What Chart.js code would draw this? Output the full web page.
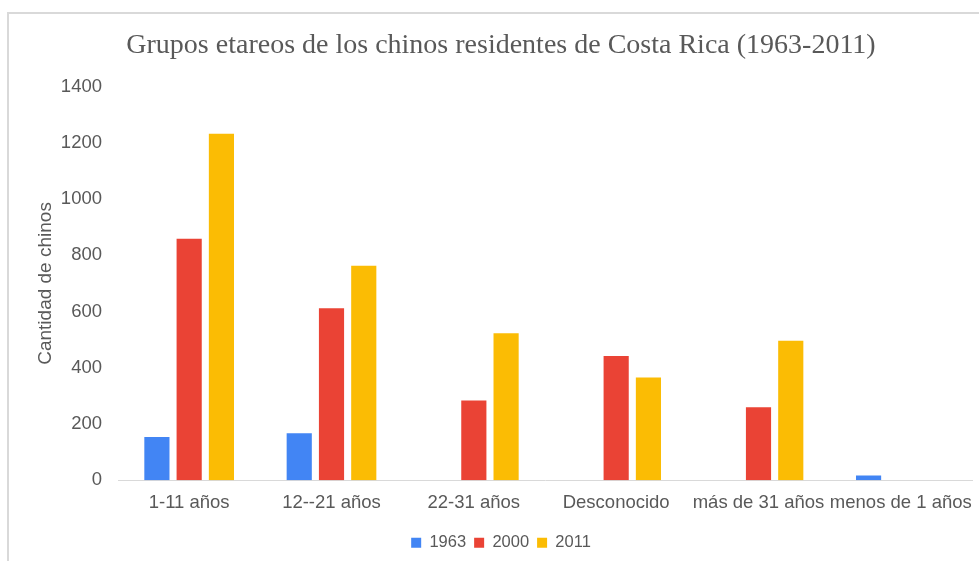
<!DOCTYPE html>
<html>
<head>
<meta charset="utf-8">
<script src="https://cdn.jsdelivr.net/npm/chart.js@4"></script>
<style>
  html, body { margin: 0; padding: 0; background: #fff; }
  #frame { position: absolute; left: 7px; top: 12px; width: 979px; height: 560px;
           border-top: 2px solid #d9d9d9; border-left: 2px solid #d9d9d9; }
  #chartGroupes { position: absolute; left: 0; top: 0; }
</style>
</head>
<body>
<div id="frame"></div>
<canvas id="chartGroupes" width="979" height="561"></canvas>
<script>
// Donnees
var categories = ["1-11 años", "12--21 años", "22-31 años", "Desconocido", "más de 31 años", "menos de 1 años"];
var valores1963 = [154, 167, null, null, null, 17];
var valores2000 = [859, 612, 284, 442, 260, null];
var valores2011 = [1232, 763, 523, 366, 496, null];
var ticksY = [0, 200, 400, 600, 800, 1000, 1200, 1400];

var gris = "#595959";

var ctx = document.getElementById("chartGroupes");
var myChart = new Chart(ctx, {
    type: 'bar',
    data: {
        labels: categories,
        datasets: [{
            label: "1963",
            backgroundColor: "#4285f4",
            data: valores1963
        }, {
            label: "2000",
            backgroundColor: "#ea4335",
            data: valores2000
        }, {
            label: "2011",
            backgroundColor: "#fbbc04",
            data: valores2011
        }]
    },
    options: {
        responsive: false,
        animation: false,
        categoryPercentage: 0.68,
        barPercentage: 0.78,
        layout: {
            padding: { left: 30, right: 7, top: 0, bottom: 0 }
        },
        scales: {
            x: {
                grid: { display: false },
                border: { color: "#d9d9d9", width: 1 },
                ticks: {
                    color: gris,
                    font: { family: "Liberation Sans", size: 18.5 },
                    maxRotation: 0,
                    autoSkip: false,
                    padding: 4
                },
                afterFit: function (axis) { axis.height = axis.height + 8; }
            },
            y: {
                min: 0,
                max: 1400,
                afterBuildTicks: function (axis) {
                    axis.ticks = ticksY.map(function (v) { return { value: v }; });
                },
                afterFit: function (axis) { axis.width = 88; },
                grid: { display: false },
                border: { display: false },
                ticks: {
                    color: gris,
                    font: { family: "Liberation Sans", size: 18.5 },
                    padding: 8,
                    callback: function (v) { return String(v); }
                },
                title: {
                    display: true,
                    text: "Cantidad de chinos",
                    color: gris,
                    font: { family: "Liberation Sans", size: 19 },
                    padding: 4
                }
            }
        },
        plugins: {
            title: {
                display: true,
                text: "Grupos etareos de los chinos residentes de Costa Rica (1963-2011)",
                color: gris,
                font: { family: "Liberation Serif", size: 28, weight: 'normal' },
                padding: { top: 29, bottom: 24 }
            },
            legend: {
                position: 'bottom',
                labels: {
                    color: gris,
                    font: { family: "Liberation Sans", size: 16.5 },
                    boxWidth: 10,
                    boxHeight: 10,
                    padding: 8
                }
            },
            tooltip: { enabled: false }
        }
    }
});
</script>
</body>
</html>
